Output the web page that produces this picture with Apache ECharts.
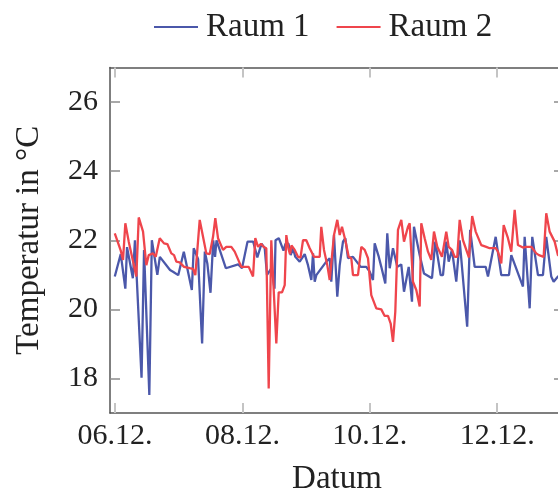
<!DOCTYPE html>
<html>
<head>
<meta charset="utf-8">
<script src="https://cdn.jsdelivr.net/npm/echarts@6/dist/echarts.min.js"></script>
<style>html,body{margin:0;padding:0;background:#fff}#c{width:558px;height:491px}</style>
</head>
<body>
<div id="c"></div>
<script>
// hours since 06.12. 00:00
const tickHours = [0, 48, 96, 144];
const tickLabels = ['06.12.', '08.12.', '10.12.', '12.12.'];
const yTicks = [18, 20, 22, 24, 26];

const raum1Hours = [-0.1,2.15,3.88,4.52,6.71,7.5,9.99,10.93,12.92,13.87,15.94,16.88,20.72,21.85,23.81,25.92,28.94,29.65,31.31,32.82,33.84,34.78,35.98,37.0,37.68,38.25,41.75,46.42,47.85,49.93,52.07,53.62,55.2,56.41,57.27,58.97,60.1,60.48,61.72,63.49,64.24,65.37,66.2,67.07,67.94,69.59,71.48,72.72,73.97,74.61,75.25,75.85,79.62,80.9,81.5,82.52,83.76,84.67,85.91,86.78,87.79,89.68,91.56,92.58,94.69,95.97,97.21,97.85,99.29,100.34,101.85,102.6,103.51,104.75,106.37,107.88,108.9,110.67,111.91,112.66,114.81,116.43,119.45,120.69,122.72,123.59,124.83,125.74,126.98,128.6,129.88,132.71,133.84,135.53,139.68,140.55,143.45,145.56,148.46,149.33,153.73,154.37,156.26,157.24,159.39,161.27,162.51,164.4,165.3,166.92,168.43];
const raum1Temps = [20.95,21.6,20.6,21.8,20.9,22.0,18.02,21.72,17.52,22.0,21.0,21.52,21.14,21.09,20.99,21.67,20.56,21.77,21.45,19.01,21.67,21.33,20.48,22.0,21.52,22.0,21.19,21.3,21.19,21.96,21.96,21.5,21.9,21.77,21.0,21.19,20.6,22.0,22.06,21.7,21.9,21.9,21.57,21.77,21.52,21.38,21.6,21.28,20.85,21.62,20.8,20.99,21.38,21.48,20.8,22.15,20.37,21.28,21.96,22.06,21.48,21.52,21.33,21.23,21.23,21.09,20.85,21.91,21.55,21.23,20.75,22.2,21.19,21.77,21.23,21.3,20.51,21.23,20.22,22.39,21.57,21.04,20.9,21.96,20.99,20.99,21.96,21.38,21.72,20.8,22.0,19.5,22.3,21.23,21.23,20.95,22.1,20.99,20.99,21.57,20.66,22.1,20.03,22.1,20.99,20.99,22.1,20.95,20.8,20.95,21.0];

const raum2Hours = [-0.1,2.15,3.01,3.88,5.16,8.03,8.93,10.55,11.79,12.7,14.32,15.34,16.84,18.46,19.71,21.21,22.23,23.1,24.38,26.0,28.15,29.39,30.26,31.91,33.16,34.4,35.68,36.93,37.79,38.81,40.69,41.94,43.82,45.1,47.59,50.38,51.13,52.0,52.86,53.88,55.01,56.14,57.01,57.91,58.89,60.78,61.68,62.93,63.94,64.55,65.37,65.94,66.5,67.71,68.95,69.9,70.84,72.08,73.36,74.98,77.13,77.73,78.75,79.99,80.9,82.52,83.76,84.67,85.53,86.78,88.06,89.04,89.68,91.56,92.81,94.09,95.33,96.57,98.46,100.34,101.62,102.87,103.88,104.75,105.62,106.63,107.88,108.9,110.4,111.04,112.29,113.53,114.81,115.41,116.69,117.94,119.18,120.2,121.44,123.21,124.83,125.74,126.98,128.0,128.98,129.88,131.13,133.39,134.59,135.91,138.02,139.9,141.19,143.45,144.31,145.56,146.46,148.08,149.33,150.61,151.85,153.73,154.98,156.86,158.75,159.76,161.53,162.51,163.79,165.68,166.92,168.43];
const raum2Temps = [22.2,21.7,21.43,22.49,21.96,20.95,22.66,22.25,21.28,21.57,21.62,21.52,22.06,21.91,21.89,21.62,21.57,21.38,21.36,21.23,21.19,21.17,20.99,22.59,22.1,21.62,21.6,22.1,22.64,22.06,21.72,21.81,21.81,21.67,21.23,21.23,21.19,20.95,22.06,21.81,21.9,21.8,21.77,17.71,22.0,19.01,20.49,20.49,20.7,22.15,21.75,21.6,21.85,21.72,21.52,21.5,22.0,22.0,21.77,21.52,21.52,22.39,21.72,21.28,20.85,22.15,22.59,22.15,22.39,22.0,21.52,21.48,20.99,20.99,21.81,21.72,21.48,20.41,20.03,20.0,19.81,19.81,19.59,19.06,19.93,22.3,22.59,21.96,22.39,22.49,20.8,20.56,20.08,22.49,22.06,21.67,21.43,22.25,21.81,21.52,22.25,21.81,21.72,21.52,21.52,22.59,22.0,21.5,22.7,22.25,21.86,21.81,21.77,21.77,21.67,21.33,22.44,22.06,21.67,22.88,21.86,21.79,21.81,21.81,21.62,21.57,21.52,22.78,22.25,21.96,21.57,21.5];

const seriesNames = ['Raum 1', 'Raum 2'];
const colors = ['#4b58aa', '#ef454c'];

const FONT = 'Liberation Serif';
const FS = 30;
const FS_TEXT = 33;
const X_MIN = -1.9, X_MAX = 169.2;

function pairs(h, v) { return h.map((x, i) => [x, v[i]]); }

const chart = echarts.init(document.getElementById('c'), null, { renderer: 'canvas' });

const xTick = { show: true, inside: true, length: 10, customValues: tickHours, lineStyle: { color: '#c4c4c4', width: 2 } };
const yTick = { show: true, inside: true, length: 10, customValues: yTicks, lineStyle: { color: '#8c8c8c', width: 1.5 } };
const axLine = { show: true, onZero: false, lineStyle: { color: '#555', width: 1.5 } };

chart.setOption({
  animation: false,
  backgroundColor: '#fff',
  color: colors,
  legend: {
    left: 154, top: 10, padding: 0,
    itemWidth: 44, itemHeight: 2, itemGap: 27,
    icon: 'rect',
    textStyle: { fontFamily: FONT, fontSize: FS_TEXT, lineHeight: 34, color: '#222', padding: [0, 0, 0, 3] },
    data: seriesNames
  },
  grid: { left: 110, top: 67.5, bottom: 78, right: -6, containLabel: false, outerBoundsMode: 'none' },
  xAxis: [{
    type: 'value', position: 'bottom', min: X_MIN, max: X_MAX,
    axisLine: axLine, axisTick: xTick, splitLine: { show: false },
    axisLabel: {
      customValues: tickHours, margin: 8,
      fontFamily: FONT, fontSize: FS, color: '#222',
      formatter: v => tickLabels[tickHours.indexOf(v)]
    },
    name: 'Datum', nameLocation: 'middle', nameGap: 50,
    nameTextStyle: { fontFamily: FONT, fontSize: FS_TEXT, color: '#222' }
  }, {
    type: 'value', position: 'top', min: X_MIN, max: X_MAX,
    axisLine: axLine, axisTick: xTick, axisLabel: { show: false }, splitLine: { show: false }
  }],
  yAxis: [{
    type: 'value', position: 'left', min: 17, max: 27,
    axisLine: axLine, axisTick: yTick, splitLine: { show: false },
    axisLabel: { customValues: yTicks, margin: 12, fontFamily: FONT, fontSize: FS, color: '#222' },
    name: 'Temperatur in °C', nameLocation: 'middle', nameGap: 64, nameRotate: 90,
    nameTextStyle: { fontFamily: FONT, fontSize: FS_TEXT, color: '#222' }
  }, {
    type: 'value', position: 'right', min: 17, max: 27,
    axisLine: axLine, axisTick: yTick, axisLabel: { show: false }, splitLine: { show: false }
  }],
  series: [{
    name: seriesNames[0], type: 'line', showSymbol: false, symbol: 'none',
    lineStyle: { width: 2.3, color: colors[0] }, itemStyle: { color: colors[0] },
    data: pairs(raum1Hours, raum1Temps)
  }, {
    name: seriesNames[1], type: 'line', showSymbol: false, symbol: 'none',
    lineStyle: { width: 2.3, color: colors[1] }, itemStyle: { color: colors[1] },
    data: pairs(raum2Hours, raum2Temps)
  }]
});
</script>
</body>
</html>
